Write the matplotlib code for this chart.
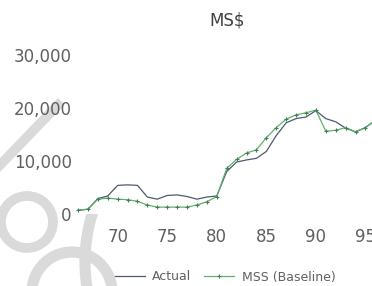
import matplotlib
matplotlib.use("Agg")
import matplotlib.pyplot as plt
from matplotlib.patches import Circle
from matplotlib.transforms import IdentityTransform

# --- data ---
years = list(range(66, 97))
actual = [700, 900, 2900, 3400, 5400, 5500, 5400, 3200, 2800, 3500,
          3600, 3300, 2800, 3200, 3400, 8000, 9800, 10200, 10500, 11800,
          14800, 17200, 18000, 18300, 19500, 18000, 17400, 16200, 15500, 16300,
          17700]
mss_baseline = [700, 900, 2800, 3000, 2800, 2700, 2400, 1700, 1300, 1300,
                1300, 1300, 1700, 2300, 3300, 8600, 10300, 11500, 12100, 14400,
                16300, 17900, 18700, 19100, 19600, 15600, 15800, 16300, 15500, 16300,
                17700]
xticks = [70, 75, 80, 85, 90, 95]
yticks = [0, 10000, 20000, 30000]
series_names = ["Actual", "MSS (Baseline)"]

W, H = 372, 286
fig = plt.figure(figsize=(W / 100, H / 100), dpi=100)
fig.patch.set_facecolor("white")

# faint watermark rings in the lower left (pixel coords, y measured from top)
ring_col = "#dadada"
for cx, cy, r, lw in [(27, 222, 26, 7), (72, 292, 40, 8), (250, 262, 165, 8)]:
    fig.patches.append(Circle((cx, H - cy), r, transform=IdentityTransform(),
                              fill=False, ec=ring_col, lw=lw, zorder=0))
fig.add_artist(plt.Line2D([0, 58], [H - 165, H - 105], color=ring_col, lw=7,
                          zorder=0, transform=IdentityTransform()))

ax = fig.add_axes([76 / W, 1 - 214 / H, (W - 76) / W, 159 / H])
ax.set_facecolor("white")
ax.set_zorder(1)

ax.plot(years, actual, color="#4d5a70", lw=0.9, label=series_names[0], zorder=3)
ax.plot(years, mss_baseline, color="#62b06c", lw=0.9, marker="+", ms=3, mew=0.8,
        mec="#3f7f52", label=series_names[1], zorder=4)

ax.set_xlim(65.8, 95.66)
ax.set_ylim(0, 30000)
ax.set_xticks(xticks)
ax.set_yticks(yticks)
ax.set_yticklabels([f"{v:,}" for v in yticks])
ax.tick_params(axis="both", length=0, labelsize=12, labelcolor="#606060")
ax.tick_params(axis="y", pad=3)
ax.tick_params(axis="x", pad=10)
for s in ax.spines.values():
    s.set_visible(False)

fig.text(227 / W, 1 - 20 / H, "MS$", ha="center", va="center", fontsize=12, color="#404040")

fig.legend(loc="center", bbox_to_anchor=(225 / W, 1 - 277 / H), ncol=2, frameon=False,
           fontsize=9, labelcolor="#606060", handlelength=2.4, handletextpad=0.6,
           columnspacing=1.0)

fig.savefig("out.png", dpi=100)
